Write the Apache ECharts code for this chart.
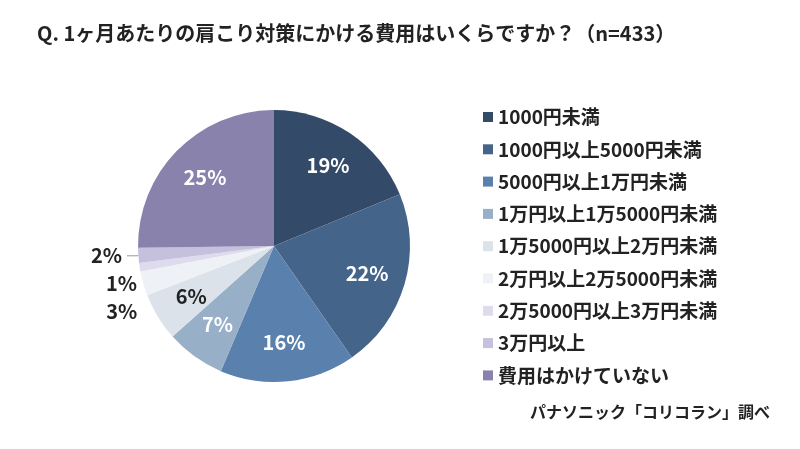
<!DOCTYPE html>
<html>
<head>
<meta charset="utf-8">
<script src="https://cdn.jsdelivr.net/npm/echarts@6/dist/echarts.min.js"></script>
<style>
html,body{margin:0;padding:0;background:#fff;}
#c{width:800px;height:449px;}
</style>
</head>
<body>
<div id="c"></div>
<script>
var titleText = 'Q. 1ヶ月あたりの肩こり対策にかける費用はいくらですか？（n=433）';
var sourceText = 'パナソニック「コリコラン」調べ';
var categories = ['1000円未満','1000円以上5000円未満','5000円以上1万円未満','1万円以上1万5000円未満','1万5000円以上2万円未満','2万円以上2万5000円未満','2万5000円以上3万円未満','3万円以上','費用はかけていない'];
var values = [18.8, 21.5, 16.1, 7.0, 5.7, 2.9, 1.0, 1.8, 25.2];
var colors = ['#344a69','#45648a','#5a80ad','#98afc8','#dbe2ea','#eef1f5','#dedcec','#c4c0dd','#8882ad'];
var insideDark = [false,false,false,false,true,false,false,false,false];
var outsideItems = [false,false,false,false,false,true,true,true,false];
var showLine = [false,false,false,false,false,false,false,true,false];

var FONT = '"Noto Sans CJK JP", "Noto Sans", sans-serif';
var chart = echarts.init(document.getElementById('c'));

var dataA = categories.map(function(n,i){
  return {
    name: n, value: values[i],
    itemStyle: {color: colors[i]},
    label: {show: outsideItems[i]},
    labelLine: showLine[i] ? {show: true, length: 6, length2: 10} : {show: false, length: 1, length2: 0}
  };
});
var dataB = categories.map(function(n,i){
  return {
    name: n, value: values[i],
    itemStyle: {color: 'rgba(0,0,0,0)'},
    label: {show: !outsideItems[i], color: insideDark[i] ? '#222222' : '#ffffff'}
  };
});
function fmt(p){ return Math.round(p.value) + '%'; }

chart.setOption({
  backgroundColor: '#ffffff',
  animation: false,
  title: [
    {text: titleText, left: 37, top: 23, padding: 0,
     textStyle: {fontFamily: FONT, fontSize: 20, fontWeight: 'bold', color: '#222222'}},
    {text: sourceText, right: 30, top: 404, padding: 0,
     textStyle: {fontFamily: FONT, fontSize: 16, fontWeight: 'bold', color: '#222222'}}
  ],
  legend: {
    orient: 'vertical', left: 483, top: 107, padding: 0,
    itemWidth: 10, itemHeight: 10, itemGap: 12.3,
    icon: 'rect',
    textStyle: {fontFamily: FONT, fontSize: 19, lineHeight: 20, fontWeight: 'bold', color: '#222222'},
    data: categories
  },
  series: [
    {
      type: 'pie', name: 'A', center: [274, 246], radius: [0, 136],
      startAngle: 90, clockwise: true, silent: true,
      data: dataA,
      label: {position: 'outside', formatter: fmt, fontFamily: FONT, fontSize: 20, fontWeight: 'bold', color: '#222222', lineHeight: 26},
      labelLine: {lineStyle: {color: '#999999', width: 1}},
      itemStyle: {borderWidth: 0}
    },
    {
      type: 'pie', name: 'B', center: [274, 246], radius: [52, 136],
      startAngle: 90, clockwise: true, silent: true,
      data: dataB,
      label: {position: 'inside', formatter: fmt, fontFamily: FONT, fontSize: 20, fontWeight: 'bold'},
      labelLine: {show: false}
    }
  ]
});
</script>
</body>
</html>
